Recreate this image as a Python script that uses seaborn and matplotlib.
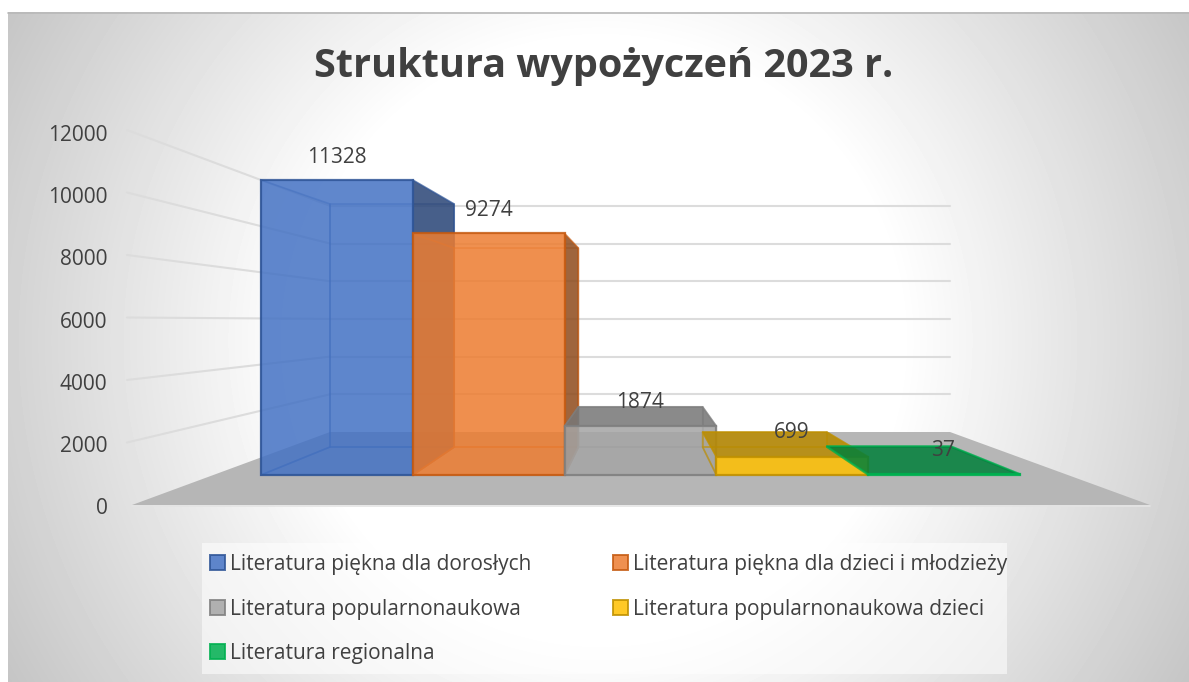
import numpy as np
import pandas as pd
import matplotlib
matplotlib.use("Agg")
import matplotlib.pyplot as plt
import seaborn as sns
from matplotlib.patches import Patch, Polygon, Rectangle
from matplotlib.colors import to_rgb

# data
kategorie = ["Literatura piękna dla dorosłych", "Literatura piękna dla dzieci i młodzieży",
             "Literatura popularnonaukowa", "Literatura popularnonaukowa dzieci", "Literatura regionalna"]
wartosci = [11328, 9274, 1874, 699, 37]
kolory = ["#4472C4", "#ED7D31", "#A5A5A5", "#FFC000", "#00B050"]
krawedzie = ["#2F5597", "#C55A11", "#7F7F7F", "#BF9000", "#00B050"]
os_y = [0, 2000, 4000, 6000, 8000, 10000, 12000]
tytul = "Struktura wypożyczeń 2023 r."

W, H = 1189, 682
TEXT = "#404040"
GRID = "#dcdcdc"

# pixel layout of the fake 3D box
FRONT_X, FRONT_W, FRONT_BASE, FRONT_S = 261, 151.8, 475, 295 / 11328
BACK_X, BACK_W, BACK_BASE, BACK_S = 330, 124.2, 447, 243 / 11328
WALL_BASE, WALL_S = 432, 37.7 / 2000
SIDE_X, SIDE_BASE, SIDE_S = 127, 505, 375 / 12000

sns.set_theme(style="white")
plt.rcParams["font.family"] = ["Open Sans", "DejaVu Sans"]


def box(x0, y0, x1, y1):
    # pixel box (y down) to figure fractions
    return [x0 / W, 1 - y1 / H, (x1 - x0) / W, (y1 - y0) / H]


def px(x, y):
    return (x - FRONT_X) / FRONT_W - 0.5, (FRONT_BASE - y) / FRONT_S


def front(i, v):
    return px(FRONT_X + FRONT_W * i, FRONT_BASE - v * FRONT_S)


def back(i, v):
    return px(BACK_X + BACK_W * i, BACK_BASE - v * BACK_S)


def wall(x, v):
    return px(x, WALL_BASE - v * WALL_S)


def darker(col, f):
    return tuple(c * f for c in to_rgb(col))


fig = plt.figure(figsize=(W / 100, H / 100), dpi=100, facecolor="white")

# background with round gradient
bg = fig.add_axes(box(8, 12, W, H), zorder=0)
yy, xx = np.mgrid[12:H, 8:W]
dist = np.hypot(xx - 600, yy - 340)
grey = np.clip(255 - (dist - 300) * 57 / 375, 190, 255) / 255
bg.imshow(grey, cmap="gray", vmin=0, vmax=1, aspect="auto", interpolation="bilinear")
bg.axis("off")
fig.add_artist(plt.Line2D([8 / W, 1], [1 - 12.5 / H] * 2, color="#b8b8b8", lw=1.2))

# main axes is the front plane of the bars
top_px = FRONT_BASE - 12000 * FRONT_S
ax = fig.add_axes(box(FRONT_X, top_px, FRONT_X + 5 * FRONT_W, FRONT_BASE), zorder=2)
df = pd.DataFrame({"kategoria": kategorie, "wartosc": wartosci})
sns.barplot(data=df, x="kategoria", y="wartosc", hue="kategoria", hue_order=kategorie, palette=kolory,
            width=1, saturation=1, dodge=False, legend=False, ax=ax)
ax.set_xlim(-0.5, 4.5)
ax.set_ylim(0, 12000)
ax.axis("off")


def face(points, color, alpha, z, edge=None, edge_alpha=0.8, lw=1.4):
    ax.add_patch(Polygon(points, closed=True, facecolor=color, alpha=alpha, zorder=z, clip_on=False, lw=0))
    if edge is not None:
        ax.add_patch(Polygon(points, closed=True, fill=False, edgecolor=edge, lw=lw, alpha=edge_alpha,
                             zorder=z + 0.5, clip_on=False, joinstyle="round"))


# floor
face([px(132, 505), px(1150, 505), px(950, 432), px(330, 432)], "#b6b6b6", 1, 1)
ax.plot(*zip(px(132, 506), px(1150, 506)), color="#e4e4e4", lw=1.2, zorder=0.9, clip_on=False)

# gridlines, back wall + left wall
for v in os_y[1:]:
    ax.plot(*zip(wall(330, v), wall(950, v)), color=GRID, lw=1.5, zorder=0.8, clip_on=False)
    ax.plot(*zip(px(SIDE_X, SIDE_BASE - v * SIDE_S), wall(330, v)), color=GRID, lw=1.5, zorder=0.8, clip_on=False)

# bars, one after another so later ones lie on top
fronts = list(ax.patches)[:5]
fronts = sorted([p for p in fronts], key=lambda p: p.get_x())
for i, (v, col, ed, bar) in enumerate(zip(wartosci, kolory, krawedzie, fronts)):
    z = 10 + 10 * i
    fb, fb2 = front(i, 0), front(i + 1, 0)
    ft, ft2 = front(i, v), front(i + 1, v)
    bb, bb2 = back(i, 0), back(i + 1, 0)
    bt, bt2 = back(i, v), back(i + 1, v)
    face([bb, bb2, bt2, bt], col, 0.05, z, ed, 0.45, 1.2)
    face([fb, bb, bt, ft], col, 0.0, z + 1, ed, 0.45, 1.2)
    face([fb, fb2, bb2, bb], col, 0.0, z + 1, ed, 0.45, 1.2)
    # right side sticks out only for the two tall bars
    sticks_out = bt2[0] > ft2[0]
    face([fb2, bb2, bt2, ft2], darker(col, 0.6), 0.85 if sticks_out else 0.15, z + 2, ed, 0.7 if sticks_out else 0.3, 1.2)
    # the top only shows by itself when it rises above the front face
    if bt[1] > ft[1]:
        face([ft, ft2, bt2, bt], darker(col, 0.72), 0.85, z + 3, ed, 0.7, 1.2)
    bar.set_alpha(0.85)
    bar.set_edgecolor(ed)
    bar.set_linewidth(1.6)
    bar.set_zorder(z + 5)
    bar.set_clip_on(False)

# value labels
label_px = [(337, 157), (489, 210), (640, 402), (792, 433), (943, 450)]
for v, (x, y) in zip(wartosci, label_px):
    lx, ly = px(x, y)
    ax.text(lx, ly, str(v), ha="center", va="center", color=TEXT, fontsize=15, zorder=100)

# value axis, only the tick labels are visible
ay = fig.add_axes(box(113, 133, 114, 506), zorder=3)
ay.set_ylim(0, 12000)
ay.set_yticks(os_y)
ay.set_yticklabels([str(t) for t in os_y], color=TEXT, fontsize=15)
ay.set_xticks([])
ay.tick_params(axis="y", length=0, pad=4)
sns.despine(ax=ay, left=True, bottom=True)
ay.patch.set_alpha(0)

fig.text(604 / W, 1 - 67 / H, tytul, ha="center", va="center", color=TEXT, fontsize=28.5, fontweight="bold", zorder=5)

# legend, filled by column so order is blue, grey, green / orange, yellow
fig.add_artist(Rectangle((202 / W, 1 - 674 / H), 805 / W, 131 / H, transform=fig.transFigure,
                         facecolor="white", alpha=0.55, edgecolor="none", zorder=1))
order = [0, 2, 4, 1, 3]
handles = [Patch(facecolor=kolory[k], edgecolor=krawedzie[k], alpha=0.85, lw=1.4, label=kategorie[k]) for k in order]
leg = fig.legend(handles=handles, ncols=2, loc="upper left", bbox_to_anchor=(210 / W, 1 - 554 / H),
                 bbox_transform=fig.transFigure, fontsize=15, frameon=False,
                 handlelength=0.72, handleheight=0.72, handletextpad=0.25,
                 labelspacing=1.13, columnspacing=3.91, borderpad=0, labelcolor=TEXT, borderaxespad=0)
leg.set_zorder(6)

fig.savefig("out.png", dpi=100)
